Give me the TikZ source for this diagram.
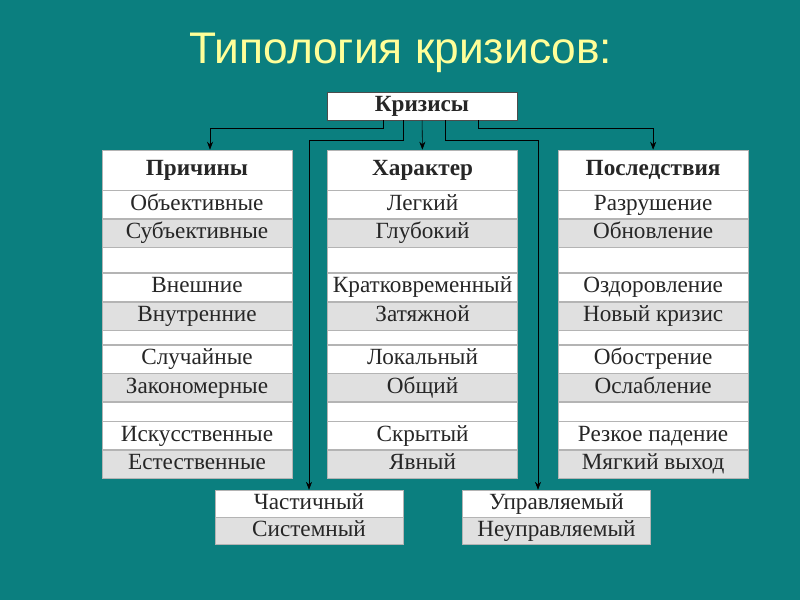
\documentclass[tikz,border=0pt]{standalone}
\usepackage{fontspec}
\setmainfont{Liberation Serif}
\newfontfamily\titfont{Liberation Sans}
\usetikzlibrary{positioning,arrows.meta}
\definecolor{mar}{HTML}{0B7F7F}
\definecolor{limon}{HTML}{FFFF99}
\definecolor{borde}{HTML}{B4B4B4}
\definecolor{gris}{HTML}{E0E0E0}

\begin{document}
\begin{tikzpicture}[font=\fontsize{16.5}{18}\selectfont, >={Stealth[length=2mm]},
      rw/.style={draw=borde, fill=white, minimum width=4.75cm, minimum height=0.7cm,
                 inner sep=0pt, text height=11pt, text depth=3pt, text=black!85},
      rg/.style={rw, fill=gris},
      hd/.style={rw, minimum height=1cm, font=\fontsize{16.5}{18}\selectfont\bfseries},
      ga/.style={rw, text height=0pt, text depth=0pt, minimum height=0.625cm},
      gb/.style={rw, text height=0pt, text depth=0pt, minimum height=0.35cm},
      gc/.style={rw, text height=0pt, text depth=0pt, minimum height=0.475cm}]
    \useasboundingbox (0,0) rectangle (20,-15);
    \fill[mar] (0,0) rectangle (20,-15);
    \node[font=\titfont\fontsize{31.5}{34}\selectfont, text=limon, anchor=base] (tit) at (10.02,-1.575) {Типология кризисов:};
    \node[rw, draw=black!70, font=\fontsize{16.5}{18}\selectfont\bfseries] (kr) at (10.55,-2.65) {Кризисы};
    % columns
    \node[hd] (p0) at (4.925,-4.25) {Причины};
    \node[hd, right=0.875cm of p0] (h0) {Характер};
    \node[hd, right=1cm of h0] (c0) {Последствия};
    \foreach \sty/\txt [count=\i, remember=\i as \j (initially 0)] in {rw/Объективные, rg/Субъективные, ga/{},
        rw/Внешние, rg/Внутренние, gb/{}, rw/Случайные, rg/Закономерные, gc/{}, rw/Искусственные, rg/Естественные}
      \node[\sty, below=0pt of p\j] (p\i) {\txt};
    \foreach \sty/\txt [count=\i, remember=\i as \j (initially 0)] in {rw/Легкий, rg/Глубокий, ga/{},
        rw/Кратковременный, rg/Затяжной, gb/{}, rw/Локальный, rg/Общий, gc/{}, rw/Скрытый, rg/Явный}
      \node[\sty, below=0pt of h\j] (h\i) {\txt};
    \foreach \sty/\txt [count=\i, remember=\i as \j (initially 0)] in {rw/Разрушение, rg/Обновление, ga/{},
        rw/Оздоровление, rg/Новый кризис, gb/{}, rw/Обострение, rg/Ослабление, gc/{}, rw/Резкое падение, rg/Мягкий выход}
      \node[\sty, below=0pt of c\j] (c\i) {\txt};
    % bottom boxes
    \node[rw, minimum width=4.7cm, minimum height=0.675cm] (s0) at (7.725,-12.59) {Частичный};
    \node[rg, minimum width=4.7cm, minimum height=0.675cm, below=0pt of s0] (s1) {Системный};
    \node[rw, minimum width=4.7cm, minimum height=0.675cm] (u0) at (13.91,-12.59) {Управляемый};
    \node[rg, minimum width=4.7cm, minimum height=0.675cm, below=0pt of u0] (u1) {Неуправляемый};
    % connectors
    \draw[->] ([xshift=-0.975cm]kr.south) -- ++(0,-0.2) -| ([xshift=0.325cm]p0.north);
    \draw[->] (kr) -- (h0);
    \draw[->] ([xshift=-0.475cm]kr.south) -- ++(0,-0.5) -| (s0);
    \draw[->] ([xshift=0.575cm]kr.south) -- ++(0,-0.5) -| ([xshift=-0.46cm]u0.north);
    \draw[->] ([xshift=1.4cm]kr.south) -- ++(0,-0.2) -| (c0);
  \end{tikzpicture}
\end{document}
